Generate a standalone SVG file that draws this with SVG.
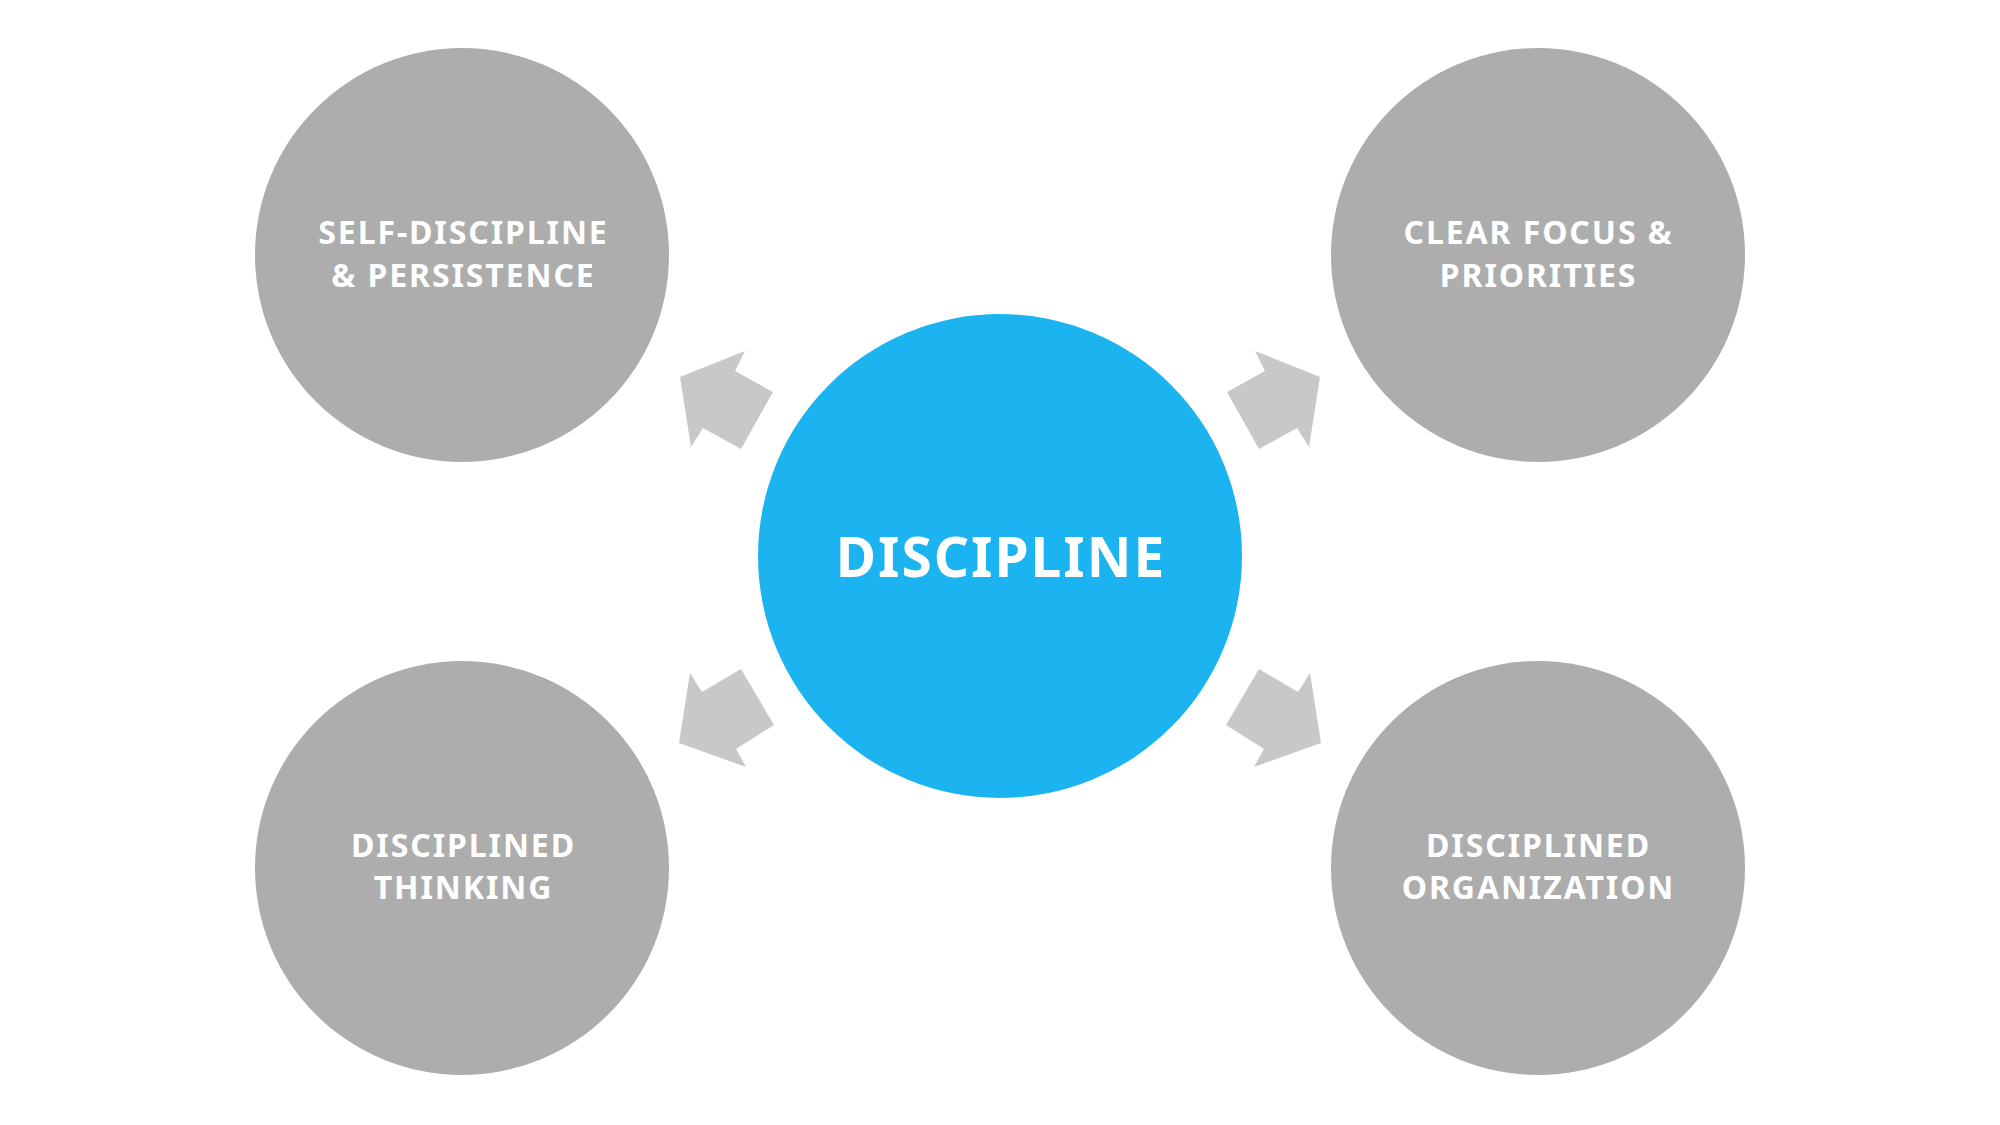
<svg xmlns="http://www.w3.org/2000/svg" width="2000" height="1125" viewBox="0 0 2000 1125">
<style>
.sat{fill:#ADADAD}
.hub{fill:#1BB3F0}
.arr{fill:#C8C8C8}
.lbl{font-family:"Noto Sans","Open Sans","Liberation Sans",sans-serif;font-weight:bold;fill:#FFFFFF;text-anchor:middle;font-size:32px;letter-spacing:1.9px}
.big{font-size:55px;letter-spacing:2px}
</style>
<rect width="2000" height="1125" fill="#FFFFFF"/>
<g id="connectors">
<polygon class="arr" points="680,377 745,351 735,371 773,392 741,449 703,428 691,447"/>
<polygon class="arr" points="1320,377 1255,351 1265,371 1227,392 1259,449 1297,428 1309,447"/>
<polygon class="arr" points="679,743 690,673 702,692 741,669 774,725 736,749 746,767"/>
<polygon class="arr" points="1321,743 1310,673 1298,692 1259,669 1226,725 1264,749 1254,767"/>
</g>
<g id="node-center">
<circle class="hub" cx="1000" cy="556" r="242"/>
<text class="lbl big" x="1001" y="577">DISCIPLINE</text>
</g>
<g id="node-self-discipline">
<circle class="sat" cx="462" cy="255" r="207"/>
<text class="lbl" x="463.5" y="244">SELF-DISCIPLINE</text>
<text class="lbl" x="463.5" y="287">&amp; PERSISTENCE</text>
</g>
<g id="node-clear-focus">
<circle class="sat" cx="1538" cy="255" r="207"/>
<text class="lbl" x="1538.5" y="244">CLEAR FOCUS &amp;</text>
<text class="lbl" x="1538.5" y="287">PRIORITIES</text>
</g>
<g id="node-thinking">
<circle class="sat" cx="462" cy="868" r="207"/>
<text class="lbl" x="463.5" y="857">DISCIPLINED</text>
<text class="lbl" x="463.5" y="899">THINKING</text>
</g>
<g id="node-organization">
<circle class="sat" cx="1538" cy="868" r="207"/>
<text class="lbl" x="1538.5" y="857">DISCIPLINED</text>
<text class="lbl" x="1538.5" y="899">ORGANIZATION</text>
</g>
</svg>
